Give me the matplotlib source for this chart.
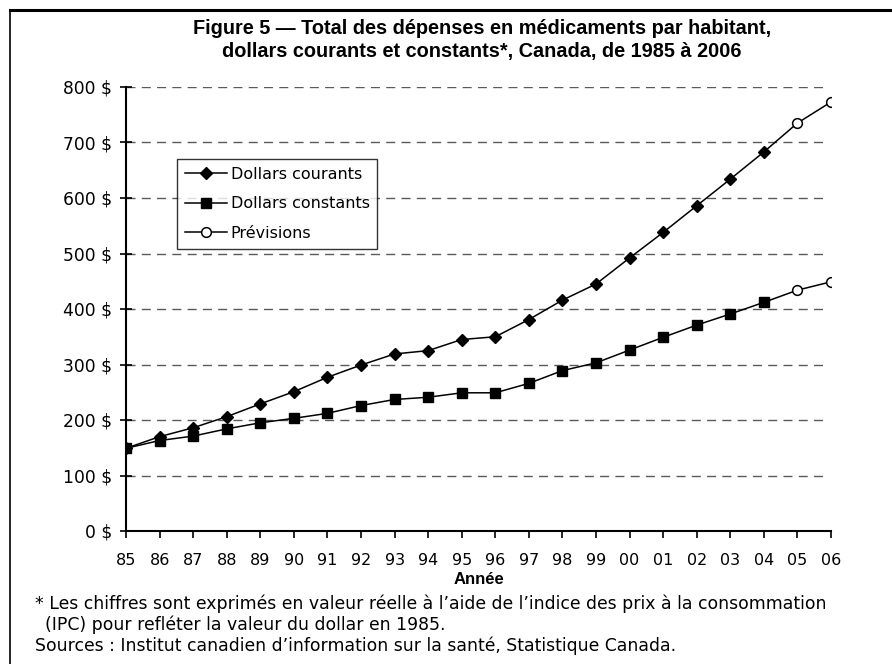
import matplotlib
matplotlib.use("Agg")
import matplotlib.pyplot as plt
from matplotlib.lines import Line2D

plt.rcParams['font.family'] = ['DejaVu Sans']

years = list(range(1985, 2007))
year_labels = [f"{y % 100:02d}" for y in years]
courants = [149, 170, 186, 206, 229, 251, 277, 299, 319, 325, 345, 350,
            381, 416, 445, 492, 538, 586, 634, 683, 735, 773]
constants = [149, 163, 171, 184, 195, 203, 212, 226, 237, 241, 249, 249,
             266, 289, 303, 326, 349, 371, 391, 412, 434, 449]
n_obs = 20  # 1985-2004 observed, 2005-2006 forecasts
yticks = list(range(0, 801, 100))

fig = plt.figure(figsize=(8.92, 6.64), dpi=100)
ax = fig.add_axes([126/892, 1-531/664, (831-126)/892, (531-87)/664])

for y in yticks[1:]:
    ax.plot([1985, 2005.85], [y, y], color="#5a5a5a", lw=1.0, ls=(0, (6.5, 4.5)), zorder=1)

ms = dict(color="black", lw=1.1, zorder=3)
ax.plot(years, courants, **ms)
ax.plot(years, constants, **ms)
ax.plot(years[:n_obs], courants[:n_obs], ls="none", marker="D", ms=6.5,
        mfc="black", mec="black", zorder=4)
ax.plot(years[:n_obs], constants[:n_obs], ls="none", marker="s", ms=7,
        mfc="black", mec="black", zorder=4)
ax.plot(years[n_obs:], courants[n_obs:], ls="none", marker="o", ms=7,
        mfc="white", mec="black", mew=1.1, zorder=4)
ax.plot(years[n_obs:], constants[n_obs:], ls="none", marker="o", ms=7,
        mfc="white", mec="black", mew=1.1, zorder=4)

ax.set_xlim(1985, 2006)
ax.set_ylim(0, 800)
ax.set_xticks(years, year_labels)
ax.set_yticks(yticks, [f"{v} $" for v in yticks])
for s in ("top", "right"):
    ax.spines[s].set_visible(False)
for s in ("left", "bottom"):
    ax.spines[s].set_linewidth(1.5)
ax.tick_params(axis="y", direction="inout", length=8, width=1.2, labelsize=12.3, pad=6)
ax.tick_params(axis="x", direction="out", length=5, width=1.2, labelsize=11.5, pad=11)
ax.set_xlabel("Année", fontsize=12, fontweight="bold", labelpad=3,
              family=["Liberation Sans", "DejaVu Sans"])

handles = [
    Line2D([], [], color="black", lw=1.1, marker="D", ms=6.5, mfc="black"),
    Line2D([], [], color="black", lw=1.1, marker="s", ms=7, mfc="black"),
    Line2D([], [], color="black", lw=1.1, marker="o", ms=7, mfc="white", mew=1.1),
]
leg = ax.legend(handles, ["Dollars courants", "Dollars constants", "Prévisions"],
                loc="upper left", bbox_to_anchor=(51/705, 1-(159-87)/444),
                fontsize=11.5, frameon=True, fancybox=False, borderaxespad=0,
                handlelength=2.6, handletextpad=0.25, labelspacing=0.9,
                borderpad=0.5)
leg.get_frame().set_edgecolor("black")
leg.get_frame().set_linewidth(1.0)

title_font = dict(ha="center", va="center", fontsize=14.3, fontweight="bold",
                  family=["Liberation Sans", "DejaVu Sans"])
fig.text(482/892, 1-28/664, "Figure 5 — Total des dépenses en médicaments par habitant,", **title_font)
fig.text(482/892, 1-52/664, "dollars courants et constants*, Canada, de 1985 à 2006", **title_font)

fig.text(35/892, 1-604/664, "* Les chiffres sont exprimés en valeur réelle à l’aide de l’indice des prix à la consommation",
         ha="left", va="center", fontsize=12.4)
fig.text(45/892, 1-625/664, "(IPC) pour refléter la valeur du dollar en 1985.",
         ha="left", va="center", fontsize=12.4)
fig.text(35/892, 1-646/664, "Sources : Institut canadien d’information sur la santé, Statistique Canada.",
         ha="left", va="center", fontsize=12.4)

# frame lines
fig.add_artist(Line2D([10/892, 1], [1-10/664, 1-10/664], color="black", lw=2.2,
                      transform=fig.transFigure))
fig.add_artist(Line2D([10/892, 10/892], [1-10/664, 0], color="black", lw=1.2,
                      transform=fig.transFigure))

fig.savefig("out.png", dpi=100)
